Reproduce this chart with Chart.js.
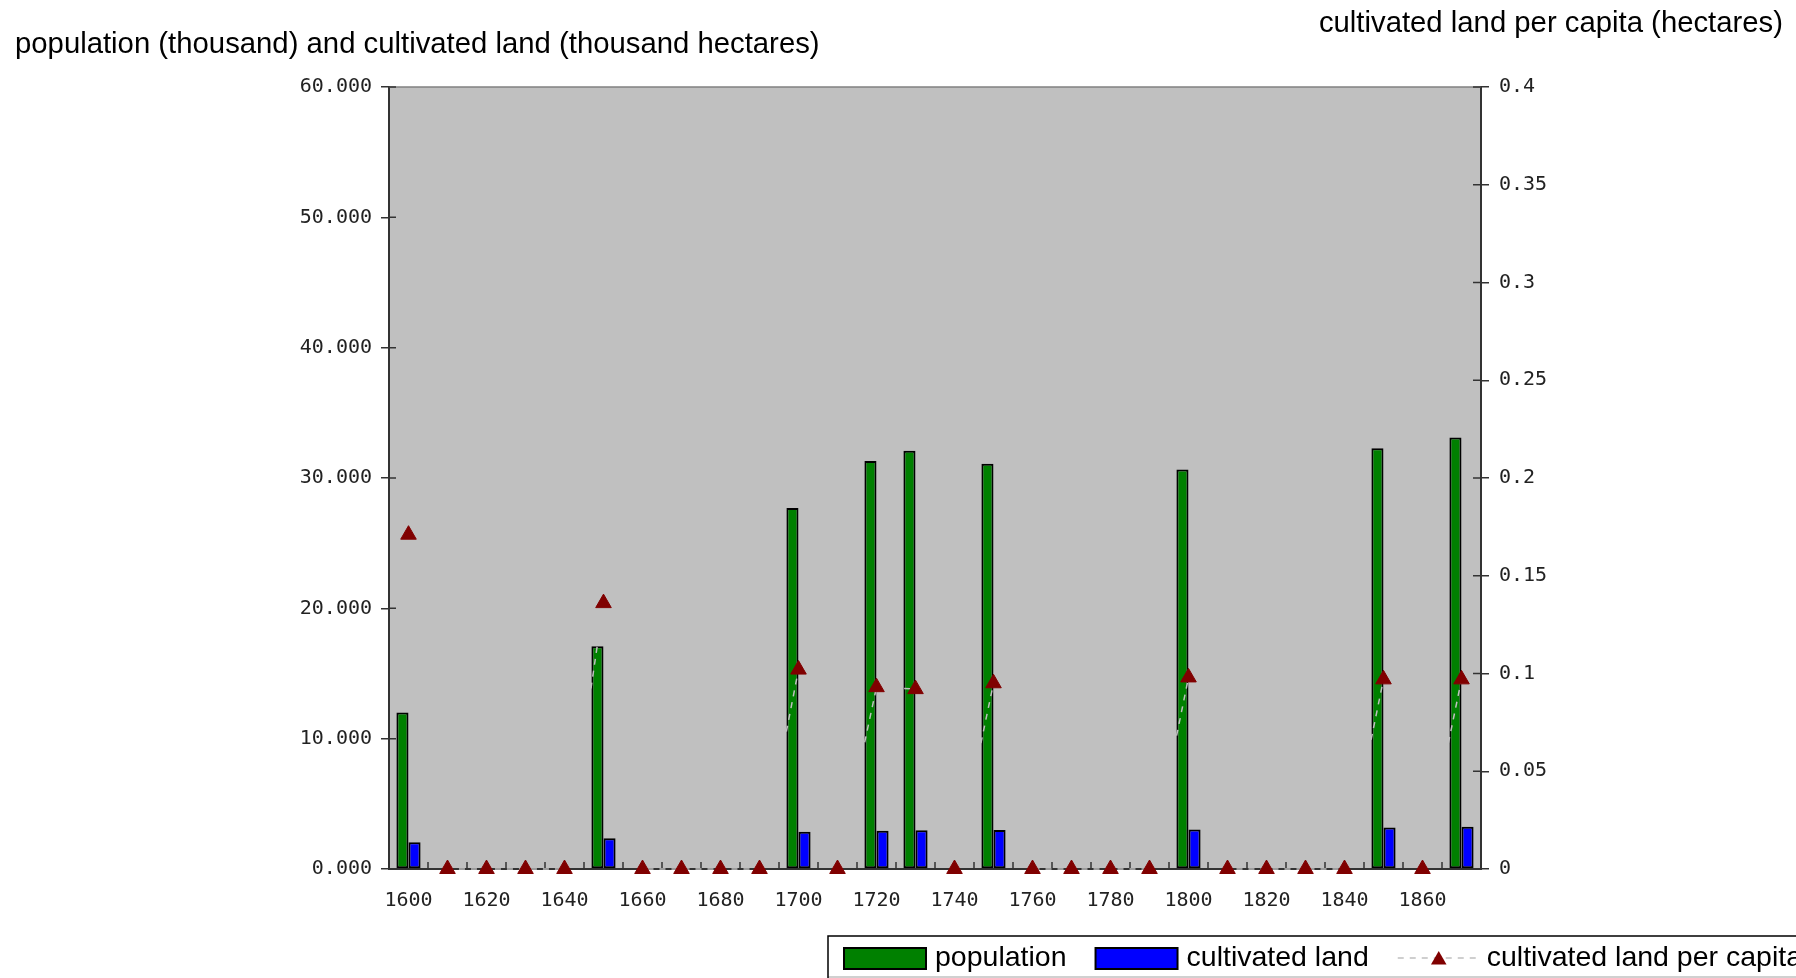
<!DOCTYPE html>
<html>
<head>
<meta charset="utf-8">
<script src="https://cdn.jsdelivr.net/npm/chart.js@4.4.1/dist/chart.umd.min.js"></script>
<style>
  html, body { margin: 0; padding: 0; background: #fff; overflow: hidden; }
  #wrap { width: 1796px; height: 978px; position: relative; }
</style>
</head>
<body>
<div id="wrap"><canvas id="myChart"></canvas></div>
<script>
// decades 1600..1870, only some of them have figures
var years = [1600, 1610, 1620, 1630, 1640, 1650, 1660, 1670, 1680, 1690,
             1700, 1710, 1720, 1730, 1740, 1750, 1760, 1770, 1780, 1790,
             1800, 1810, 1820, 1830, 1840, 1850, 1860, 1870];

// thousand
var population = [12000, null, null, null, null, 17100, null, null, null, null,
                  27700, null, 31300, 32100, null, 31100, null, null, null, null,
                  30650, null, null, null, null, 32280, null, 33100];

// thousand hectares
var cultivatedLand = [2060, null, null, null, null, 2350, null, null, null, null,
                      2850, null, 2940, 2980, null, 3000, null, null, null, null,
                      3030, null, null, null, null, 3180, null, 3240];

// hectares per person
var perCapita = [0.171, 0, 0, 0, 0, 0.136, 0, 0, 0, 0,
                 0.102, 0, 0.093, 0.092, 0, 0.095, 0, 0, 0, 0,
                 0.098, 0, 0, 0, 0, 0.097, 0, 0.097];

var leftTitle = 'population (thousand) and cultivated land (thousand hectares)';
var rightTitle = 'cultivated land per capita (hectares)';

var titleFont = '29.3px "Liberation Sans", Arial, sans-serif';
var legendFont = '28.5px "Liberation Sans", Arial, sans-serif';
var tickFont = { family: '"DejaVu Sans Mono", monospace', size: 20 };

const decorations = {
    id: 'decorations',
    beforeDraw: function(chart) {
        var a = chart.chartArea, ctx = chart.ctx;
        ctx.save();
        ctx.fillStyle = '#c0c0c0';
        ctx.fillRect(a.left, a.top, a.right - a.left, a.bottom - a.top);
        ctx.restore();
    },
    beforeDatasetsDraw: function(chart) {
        var a = chart.chartArea, ctx = chart.ctx, s = chart.scales;
        ctx.save();
        ctx.strokeStyle = '#808080';
        ctx.lineWidth = 1.5;
        ctx.beginPath();
        ctx.moveTo(a.left, a.top);
        ctx.lineTo(a.right, a.top);
        ctx.stroke();
        // the tick marks also reach into the plot
        ctx.strokeStyle = '#333';
        ctx.lineWidth = 1.5;
        ctx.beginPath();
        s.y.ticks.forEach(function(t) {
            var p = s.y.getPixelForValue(t.value);
            ctx.moveTo(a.left, p);
            ctx.lineTo(a.left + 7, p);
        });
        s.y1.ticks.forEach(function(t) {
            var p = s.y1.getPixelForValue(t.value);
            ctx.moveTo(a.right - 8, p);
            ctx.lineTo(a.right, p);
        });
        for (var i = 0; i <= years.length; i++) {
            var px = s.x.getPixelForValue(i - 0.5);
            ctx.moveTo(px, a.bottom);
            ctx.lineTo(px, a.bottom - 7);
        }
        ctx.stroke();
        ctx.restore();
    },
    afterDraw: function(chart) {
        var ctx = chart.ctx, W = chart.width;
        ctx.save();
        ctx.font = titleFont;
        ctx.fillStyle = '#000';
        ctx.textBaseline = 'middle';
        ctx.textAlign = 'left';
        ctx.fillText(leftTitle, 15, 45);
        ctx.textAlign = 'right';
        ctx.fillText(rightTitle, 1783, 24);

        // legend box, runs off the right edge like the original
        var lx = 828, ly = 936, cy = 958;
        ctx.fillStyle = '#fff';
        ctx.fillRect(lx, ly, W - lx + 10, 60);
        ctx.strokeStyle = '#c0c0c0';
        ctx.lineWidth = 1.5;
        ctx.beginPath();
        ctx.moveTo(lx, 977);
        ctx.lineTo(W + 5, 977);
        ctx.stroke();
        ctx.strokeStyle = '#000';
        ctx.beginPath();
        ctx.moveTo(lx, 980);
        ctx.lineTo(lx, ly);
        ctx.lineTo(W + 5, ly);
        ctx.stroke();

        ctx.font = legendFont;
        ctx.textAlign = 'left';
        var x = 844;
        chart.data.datasets.forEach(function(ds) {
            if (ds.type === 'line') {
                ctx.strokeStyle = ds.borderColor;
                ctx.lineWidth = 1.5;
                ctx.setLineDash([6, 6]);
                ctx.beginPath();
                ctx.moveTo(x, cy);
                ctx.lineTo(x + 82, cy);
                ctx.stroke();
                ctx.setLineDash([]);
                var r = 9, tx = x + 41, ty = cy + 2;
                ctx.fillStyle = ds.pointBackgroundColor;
                ctx.beginPath();
                ctx.moveTo(tx, ty - r);
                ctx.lineTo(tx + r * 0.866, ty + r / 2);
                ctx.lineTo(tx - r * 0.866, ty + r / 2);
                ctx.closePath();
                ctx.fill();
                x += 89;
            } else {
                ctx.fillStyle = ds.backgroundColor;
                ctx.fillRect(x, cy - 10, 82, 21);
                ctx.strokeStyle = '#000';
                ctx.lineWidth = 2;
                ctx.strokeRect(x, cy - 10, 82, 21);
                x += 91;
            }
            ctx.fillStyle = '#000';
            ctx.fillText(ds.label, x, cy);
            x += ctx.measureText(ds.label).width + 29;
        });
        ctx.restore();
    }
};

const data = {
    labels: years,
    datasets: [{
        type: 'bar',
        label: 'population',
        data: population,
        backgroundColor: '#008000',
        borderColor: '#000',
        borderWidth: 2,
        borderSkipped: false,
        yAxisID: 'y',
        order: 2
    }, {
        type: 'bar',
        label: 'cultivated land',
        data: cultivatedLand,
        backgroundColor: '#0000ff',
        borderColor: '#000',
        borderWidth: 2,
        borderSkipped: false,
        yAxisID: 'y',
        order: 2
    }, {
        type: 'line',
        label: 'cultivated land per capita',
        data: perCapita,
        borderColor: '#c0c0c0',
        borderWidth: 1.5,
        borderDash: [6, 6],
        tension: 0,
        pointStyle: 'triangle',
        pointRadius: 9,
        pointBackgroundColor: '#800000',
        pointBorderColor: '#800000',
        pointBorderWidth: 1,
        clip: false,
        yAxisID: 'y1',
        order: 0
    }]
};

const config = {
    data: data,
    options: {
        responsive: true,
        maintainAspectRatio: false,
        animation: false,
        datasets: { bar: { categoryPercentage: 0.62, barPercentage: 1.0 } },
        layout: { padding: { top: 87, left: 0, right: 0, bottom: 0 } },
        plugins: {
            legend: { display: false },
            tooltip: { enabled: false }
        },
        scales: {
            x: {
                offset: true,
                grid: { display: false },
                border: { display: true, color: '#333', width: 2 },
                ticks: {
                    autoSkip: false,
                    maxRotation: 0,
                    padding: 12,
                    color: '#222',
                    font: tickFont,
                    callback: function(v, i) { return i % 2 === 0 ? years[i] : ''; }
                },
                afterFit: function(scale) { scale.height = 109; }
            },
            y: {
                position: 'left',
                min: 0,
                max: 60000,
                grid: { drawOnChartArea: false, tickLength: 8, color: '#333', lineWidth: 1.5 },
                border: { color: '#333', width: 2 },
                ticks: {
                    stepSize: 10000,
                    padding: 9,
                    color: '#222',
                    font: tickFont,
                    callback: function(v) { return (v / 1000).toFixed(3); }
                },
                afterFit: function(scale) { scale.width = 389; }
            },
            y1: {
                position: 'right',
                min: 0,
                max: 0.4,
                grid: { drawOnChartArea: false, tickLength: 8, color: '#333', lineWidth: 1.5 },
                border: { color: '#333', width: 2 },
                ticks: {
                    stepSize: 0.05,
                    padding: 10,
                    color: '#222',
                    font: tickFont,
                    callback: function(v) { return String(Number(v.toFixed(2))); }
                },
                afterFit: function(scale) { scale.width = 315; }
            }
        }
    },
    plugins: [decorations]
};

const myChart = new Chart(document.getElementById('myChart'), config);
</script>
</body>
</html>
